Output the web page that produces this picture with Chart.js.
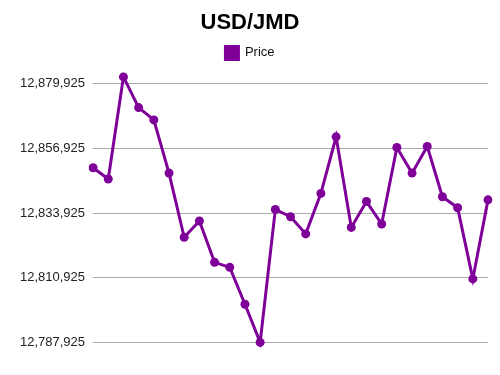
<!DOCTYPE html>
<html>
<head>
<meta charset="utf-8">
<script src="https://cdn.jsdelivr.net/npm/chart.js@4/dist/chart.umd.min.js"></script>
<style>
  html, body { margin: 0; padding: 0; background: #fff; }
  #wrap { width: 500px; height: 375px; }
</style>
</head>
<body>
<div id="wrap"><canvas id="fxChart"></canvas></div>
<script>
const days = ["1","2","3","4","5","6","7","8","9","10","11","12","13","14","15","16","17","18","19","20","21","22","23","24","25","26","27"];
const prices = [12850000, 12846000, 12882300, 12871400, 12867000, 12848100, 12825300, 12831100, 12816400,
                12814600, 12801500, 12787925, 12835200, 12832600, 12826500, 12840900, 12861000, 12828800,
                12838000, 12830000, 12857200, 12848100, 12857600, 12839700, 12835800, 12810500, 12838600];
const yTicks = [12787925, 12810925, 12833925, 12856925, 12879925];

const purple = "#7f0099";

let ctx = document.getElementById("fxChart").getContext("2d");

let fxChart = new Chart(ctx, {
    type: "line",
    data: {
        labels: days,
        datasets: [{
            label: "Price",
            data: prices,
            borderColor: purple,
            backgroundColor: purple,
            borderWidth: 3,
            pointRadius: 4.5,
            pointBackgroundColor: purple,
            pointBorderWidth: 0,
            tension: 0
        }]
    },
    options: {
        responsive: true,
        maintainAspectRatio: false,
        animation: false,
        layout: { padding: { left: 12, right: 12, bottom: 5 } },
        plugins: {
            title: {
                display: true,
                text: "USD/JMD",
                color: "#000",
                font: { family: "Liberation Sans", size: 22, weight: "bold" },
                padding: { top: 10, bottom: 2 }
            },
            legend: {
                labels: {
                    color: "#111",
                    font: { family: "Liberation Sans", size: 13 },
                    boxWidth: 13,
                    boxHeight: 13,
                    padding: 8
                }
            },
            tooltip: { enabled: false }
        },
        scales: {
            x: { display: false, offset: false },
            y: {
                min: 12781964,
                max: 12884963,
                afterBuildTicks: axis => { axis.ticks = yTicks.map(v => ({ value: v })); },
                border: { display: false },
                grid: { color: "#aaaaaa", drawTicks: false, lineWidth: 1 },
                ticks: {
                    color: "#222",
                    padding: 8,
                    font: { family: "Liberation Sans", size: 13 },
                    callback: v => v.toLocaleString("en-US")
                }
            }
        }
    }
});
</script>
</body>
</html>
